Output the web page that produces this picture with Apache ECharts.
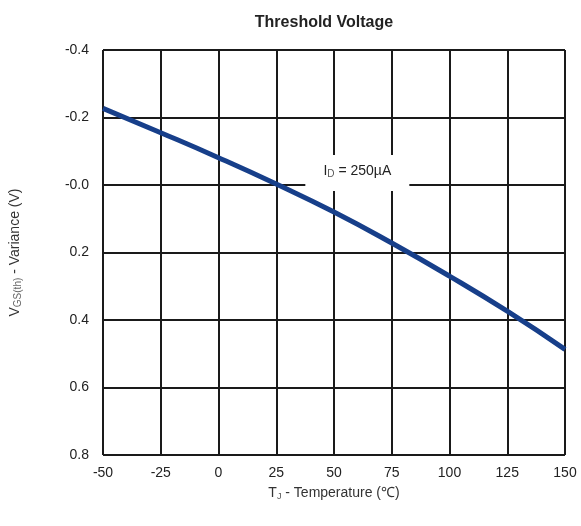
<!DOCTYPE html>
<html><head><meta charset="utf-8">
<script src="https://cdn.jsdelivr.net/npm/echarts@6/dist/echarts.min.js"></script>
<style>html,body{margin:0;padding:0;background:#fff}#c{width:581px;height:526px}</style>
</head><body><div id="c"></div>
<script>
var temperatures = [-50, -25, 0, 25, 50, 75, 100, 125, 150];
var variance = [-0.227, -0.155, -0.081, -0.003, 0.080, 0.172, 0.270, 0.374, 0.487];
var xTicks = [-50, -25, 0, 25, 50, 75, 100, 125, 150];
var yTicks = [-0.4, -0.2, 0, 0.2, 0.4, 0.6, 0.8];

var chart = echarts.init(document.getElementById('c'));
var font = 'Liberation Sans, Arial, sans-serif';
chart.setOption({
  animation: false,
  title: {
    text: 'Threshold Voltage', left: 319, top: 10, textAlign: 'center',
    textStyle: {fontFamily: font, fontSize: 16, fontWeight: 'bold', color: '#222'}
  },
  grid: {left: 102, right: 16, top: 50, bottom: 71},
  xAxis: {
    type: 'value', min: -50, max: 150, interval: 25,
    name: 'T{s|J} - Temperature (℃)', nameLocation: 'middle', nameGap: 30,
    nameTextStyle: {fontFamily: font, fontSize: 14, color: '#333',
      rich: {s: {fontSize: 9, color: '#555', padding: [7, 0, 0, 0]}}},
    axisLine: {show: true, lineStyle: {color: '#1a1a1a', width: 2}},
    axisTick: {show: false},
    splitLine: {show: true, lineStyle: {color: '#1a1a1a', width: 2}},
    axisLabel: {fontFamily: font, fontSize: 14, color: '#222', margin: 11,
      formatter: function (v) { return xTicks.indexOf(v) >= 0 ? String(v) : ''; }}
  },
  yAxis: {
    type: 'value', min: -0.4, max: 0.8, interval: 0.2, inverse: true,
    name: 'V{s|GS(th)} - Variance (V)', nameLocation: 'middle', nameGap: 80, nameRotate: 90,
    nameTextStyle: {fontFamily: font, fontSize: 14, color: '#333',
      rich: {s: {fontSize: 10, color: '#666', padding: [6, 0, 0, 0]}}},
    axisLine: {show: true, lineStyle: {color: '#1a1a1a', width: 2}},
    axisTick: {show: false},
    splitLine: {show: true, lineStyle: {color: '#1a1a1a', width: 2}},
    axisLabel: {fontFamily: font, fontSize: 14, color: '#222', margin: 14,
      formatter: function (v) {
        var r = Math.round(v * 10) / 10;
        if (r <= 0) return '-' + Math.abs(r).toFixed(1);
        return r.toFixed(1);
      }}
  },
  series: [{
    type: 'line', smooth: true, symbol: 'none',
    data: temperatures.map(function (t, i) { return [t, variance[i]]; }),
    lineStyle: {color: '#173f8a', width: 5},
    markPoint: {
      symbol: 'rect', symbolSize: [104, 36], itemStyle: {color: '#fff'},
      data: [{coord: [60.1, -0.0356]}],
      label: {show: true, formatter: 'I{s|D} = 250µA', fontFamily: font, fontSize: 14, color: '#222',
        offset: [0, -2],
        rich: {s: {fontSize: 10, color: '#555', padding: [7, 0, 0, 0]}}}
    }
  }]
});
</script></body></html>
